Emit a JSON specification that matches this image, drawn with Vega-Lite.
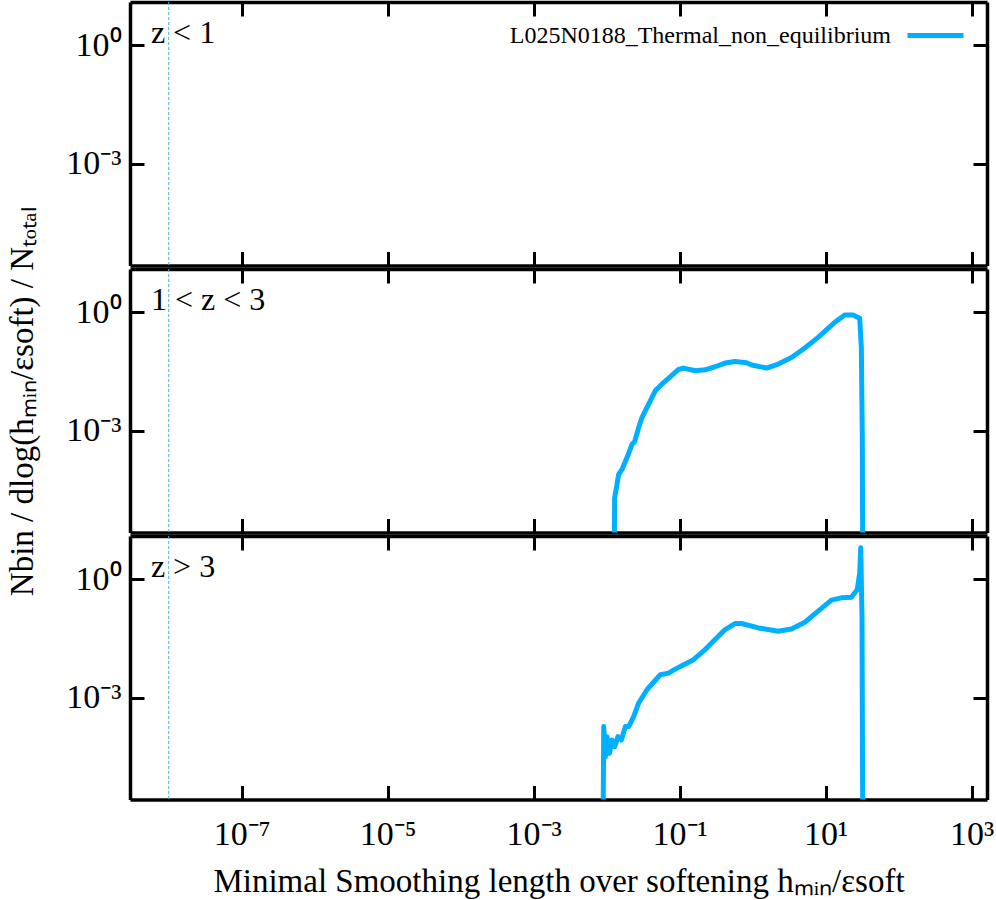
{
  "$schema": "https://vega.github.io/schema/vega-lite/v6.json",
  "background": "white",
  "padding": {"left": 6, "top": 0, "right": 8, "bottom": 5},
  "datasets": {
    "curves": [
      {"panel": "mid", "x": 0.01247, "y": 1e-8},
      {"panel": "mid", "x": 0.01285, "y": 1.995e-5},
      {"panel": "mid", "x": 0.01459, "y": 7.816e-5},
      {"panel": "mid", "x": 0.01618, "y": 1.047e-4},
      {"panel": "mid", "x": 0.01892, "y": 2.065e-4},
      {"panel": "mid", "x": 0.02218, "y": 4.519e-4},
      {"panel": "mid", "x": 0.02415, "y": 5.26e-4},
      {"panel": "mid", "x": 0.02735, "y": 1.191e-3},
      {"panel": "mid", "x": 0.03034, "y": 2.138e-3},
      {"panel": "mid", "x": 0.03556, "y": 3.837e-3},
      {"panel": "mid", "x": 0.04624, "y": 1.019e-2},
      {"panel": "mid", "x": 0.06012, "y": 1.652e-2},
      {"panel": "mid", "x": 0.07413, "y": 2.307e-2},
      {"panel": "mid", "x": 0.09638, "y": 3.532e-2},
      {"panel": "mid", "x": 0.1127, "y": 3.837e-2},
      {"panel": "mid", "x": 0.1629, "y": 3.273e-2},
      {"panel": "mid", "x": 0.2228, "y": 3.475e-2},
      {"panel": "mid", "x": 0.3055, "y": 4.14e-2},
      {"panel": "mid", "x": 0.4188, "y": 5.14e-2},
      {"panel": "mid", "x": 0.5728, "y": 5.636e-2},
      {"panel": "mid", "x": 0.826, "y": 5.224e-2},
      {"panel": "mid", "x": 0.966, "y": 4.571e-2},
      {"panel": "mid", "x": 1.549, "y": 3.837e-2},
      {"panel": "mid", "x": 2.239, "y": 4.842e-2},
      {"panel": "mid", "x": 3.396, "y": 7.129e-2},
      {"panel": "mid", "x": 5.176, "y": 0.1233},
      {"panel": "mid", "x": 7.87, "y": 0.2291},
      {"panel": "mid", "x": 13.3, "y": 0.5508},
      {"panel": "mid", "x": 18.24, "y": 0.8492},
      {"panel": "mid", "x": 23.66, "y": 0.8492},
      {"panel": "mid", "x": 29.24, "y": 0.6966},
      {"panel": "mid", "x": 30.76, "y": 0.1279},
      {"panel": "mid", "x": 31.7, "y": 6.637e-4},
      {"panel": "mid", "x": 32.43, "y": 1e-8},
      {"panel": "high", "x": 0.00881, "y": 1e-8},
      {"panel": "high", "x": 0.009099, "y": 1.858e-4},
      {"panel": "high", "x": 0.009594, "y": 3.221e-5},
      {"panel": "high", "x": 0.01009, "y": 1.035e-4},
      {"panel": "high", "x": 0.01089, "y": 3.899e-5},
      {"panel": "high", "x": 0.0118, "y": 8.531e-5},
      {"panel": "high", "x": 0.01285, "y": 5.768e-5},
      {"panel": "high", "x": 0.01426, "y": 1.035e-4},
      {"panel": "high", "x": 0.01589, "y": 8.531e-5},
      {"panel": "high", "x": 0.01799, "y": 1.858e-4},
      {"panel": "high", "x": 0.02, "y": 1.858e-4},
      {"panel": "high", "x": 0.02339, "y": 3.334e-4},
      {"panel": "high", "x": 0.02735, "y": 7.244e-4},
      {"panel": "high", "x": 0.03556, "y": 1.589e-3},
      {"panel": "high", "x": 0.0542, "y": 3.811e-3},
      {"panel": "high", "x": 0.07031, "y": 4.188e-3},
      {"panel": "high", "x": 0.0869, "y": 5.284e-3},
      {"panel": "high", "x": 0.1069, "y": 6.457e-3},
      {"panel": "high", "x": 0.1545, "y": 9.162e-3},
      {"panel": "high", "x": 0.2228, "y": 1.644e-2},
      {"panel": "high", "x": 0.3055, "y": 2.951e-2},
      {"panel": "high", "x": 0.4188, "y": 5.284e-2},
      {"panel": "high", "x": 0.5728, "y": 7.516e-2},
      {"panel": "high", "x": 0.7047, "y": 7.516e-2},
      {"panel": "high", "x": 1.194, "y": 5.808e-2},
      {"panel": "high", "x": 2.239, "y": 4.786e-2},
      {"panel": "high", "x": 3.396, "y": 5.483e-2},
      {"panel": "high", "x": 5.176, "y": 8.11e-2},
      {"panel": "high", "x": 7.87, "y": 0.1542},
      {"panel": "high", "x": 11.97, "y": 0.2931},
      {"panel": "high", "x": 16.41, "y": 0.335},
      {"panel": "high", "x": 22.44, "y": 0.3491},
      {"panel": "high", "x": 27.1, "y": 0.5483},
      {"panel": "high", "x": 29.24, "y": 1.445},
      {"panel": "high", "x": 30.2, "y": 6.223},
      {"panel": "high", "x": 31.41, "y": 0.1151},
      {"panel": "high", "x": 32.43, "y": 1e-8}
    ]
  },
  "vconcat": [
    {
      "width": 857,
      "height": 263.5,
      "layer": [
        {
          "data": {"name": "curves"},
          "transform": [{"filter": "datum.panel === 'low'"}],
          "mark": {"type": "line", "clip": true, "strokeWidth": 5, "strokeCap": "round", "strokeJoin": "round"},
          "encoding": {
            "x": {"field": "x", "type": "quantitative", "scale": {"type": "log", "domain": [2.95e-9, 1620]},
              "axis": {"orient": "bottom", "values": [1e-7, 1e-5, 0.001, 0.1, 10, 1000], "labels": false, "title": null}},
            "y": {"field": "y", "type": "quantitative", "scale": {"type": "log", "domain": [2.66e-6, 12.3]},
              "axis": {"orient": "left", "values": [0.001, 1], "title": null,
                "labelExpr": "datum.value < 0.01 ? '10⁻³' : '10⁰'"}},
            "color": {"datum": "L025N0188_Thermal_non_equilibrium", "type": "nominal",
              "scale": {"domain": ["L025N0188_Thermal_non_equilibrium"], "range": ["#00b0ff"]},
              "legend": {"orient": "none", "legendX": 775, "legendY": 3, "title": null, "padding": 0,
                "symbolType": "stroke", "symbolSize": 3136, "symbolStrokeWidth": 5,
                "labelAlign": "right", "labelOffset": -75, "labelFont": "Liberation Serif",
                "labelFontSize": 24, "labelColor": "black", "labelLimit": 700}}
          }
        },
        {
          "data": {"values": [{}]},
          "mark": {"type": "rule", "color": "#4fb0e6", "strokeWidth": 1, "strokeDash": [3, 2]},
          "encoding": {
            "x": {"datum": 1e-8, "type": "quantitative", "scale": {"type": "log", "domain": [2.95e-9, 1620]},
              "axis": {"orient": "top", "values": [1e-7, 1e-5, 0.001, 0.1, 10, 1000], "labels": false, "title": null}}
          }
        },
        {
          "data": {"values": [{}]},
          "mark": {"type": "text", "align": "left", "baseline": "alphabetic", "font": "Liberation Serif", "fontSize": 32},
          "encoding": {
            "x": {"datum": 5.7e-9, "type": "quantitative", "scale": {"type": "log", "domain": [2.95e-9, 1620]}, "axis": null},
            "y": {"datum": 1.1, "type": "quantitative", "scale": {"type": "log", "domain": [2.66e-6, 12.3]},
              "axis": {"orient": "right", "values": [0.001, 1], "labels": false, "title": null}},
            "text": {"value": "z < 1"}
          }
        }
      ],
      "resolve": {"axis": {"x": "independent", "y": "independent"}}
    },
    {
      "width": 857,
      "height": 263.5,
      "layer": [
        {
          "data": {"name": "curves"},
          "transform": [{"filter": "datum.panel === 'mid'"}],
          "mark": {"type": "line", "clip": true, "strokeWidth": 5, "strokeCap": "round", "strokeJoin": "round", "color": "#00b0ff"},
          "encoding": {
            "x": {"field": "x", "type": "quantitative", "scale": {"type": "log", "domain": [2.95e-9, 1620]},
              "axis": {"orient": "bottom", "values": [1e-7, 1e-5, 0.001, 0.1, 10, 1000], "labels": false, "title": null}},
            "y": {"field": "y", "type": "quantitative", "scale": {"type": "log", "domain": [2.66e-6, 12.3]},
              "axis": {"orient": "left", "values": [0.001, 1], "title": "Nbin / dlog(hₘᵢₙ/εsoft) / Nₜₒₜₐₗ", "titlePadding": 26,
                "labelExpr": "datum.value < 0.01 ? '10⁻³' : '10⁰'"}}
          }
        },
        {
          "data": {"values": [{}]},
          "mark": {"type": "rule", "color": "#4fb0e6", "strokeWidth": 1, "strokeDash": [3, 2]},
          "encoding": {
            "x": {"datum": 1e-8, "type": "quantitative", "scale": {"type": "log", "domain": [2.95e-9, 1620]},
              "axis": {"orient": "top", "values": [1e-7, 1e-5, 0.001, 0.1, 10, 1000], "labels": false, "title": null}}
          }
        },
        {
          "data": {"values": [{}]},
          "mark": {"type": "text", "align": "left", "baseline": "alphabetic", "font": "Liberation Serif", "fontSize": 32},
          "encoding": {
            "x": {"datum": 5.7e-9, "type": "quantitative", "scale": {"type": "log", "domain": [2.95e-9, 1620]}, "axis": null},
            "y": {"datum": 1.1, "type": "quantitative", "scale": {"type": "log", "domain": [2.66e-6, 12.3]},
              "axis": {"orient": "right", "values": [0.001, 1], "labels": false, "title": null}},
            "text": {"value": "1 < z < 3"}
          }
        }
      ],
      "resolve": {"axis": {"x": "independent", "y": "independent"}}
    },
    {
      "width": 857,
      "height": 263.5,
      "layer": [
        {
          "data": {"name": "curves"},
          "transform": [{"filter": "datum.panel === 'high'"}],
          "mark": {"type": "line", "clip": true, "strokeWidth": 5, "strokeCap": "round", "strokeJoin": "round", "color": "#00b0ff"},
          "encoding": {
            "x": {"field": "x", "type": "quantitative", "scale": {"type": "log", "domain": [2.95e-9, 1620]},
              "axis": {"orient": "bottom", "values": [1e-7, 1e-5, 0.001, 0.1, 10, 1000],
                "title": "Minimal Smoothing length over softening hₘᵢₙ/εsoft", "titlePadding": 14,
                "labelExpr": "datum.value < 1e-6 ? '10⁻⁷' : datum.value < 1e-4 ? '10⁻⁵' : datum.value < 0.01 ? '10⁻³' : datum.value < 1 ? '10⁻¹' : datum.value < 100 ? '10¹' : '10³'",
                "labelPadding": 32, "labelBaseline": "top"}},
            "y": {"field": "y", "type": "quantitative", "scale": {"type": "log", "domain": [2.66e-6, 12.3]},
              "axis": {"orient": "left", "values": [0.001, 1], "title": null,
                "labelExpr": "datum.value < 0.01 ? '10⁻³' : '10⁰'"}}
          }
        },
        {
          "data": {"values": [{}]},
          "mark": {"type": "rule", "color": "#4fb0e6", "strokeWidth": 1, "strokeDash": [3, 2]},
          "encoding": {
            "x": {"datum": 1e-8, "type": "quantitative", "scale": {"type": "log", "domain": [2.95e-9, 1620]},
              "axis": {"orient": "top", "values": [1e-7, 1e-5, 0.001, 0.1, 10, 1000], "labels": false, "title": null}}
          }
        },
        {
          "data": {"values": [{}]},
          "mark": {"type": "text", "align": "left", "baseline": "alphabetic", "font": "Liberation Serif", "fontSize": 32},
          "encoding": {
            "x": {"datum": 5.7e-9, "type": "quantitative", "scale": {"type": "log", "domain": [2.95e-9, 1620]}, "axis": null},
            "y": {"datum": 1.1, "type": "quantitative", "scale": {"type": "log", "domain": [2.66e-6, 12.3]},
              "axis": {"orient": "right", "values": [0.001, 1], "labels": false, "title": null}},
            "text": {"value": "z > 3"}
          }
        }
      ],
      "resolve": {"axis": {"x": "independent", "y": "independent"}}
    }
  ],
  "spacing": 3,
  "bounds": "flush",
  "config": {
    "view": {"stroke": null},
    "axis": {
      "grid": false,
      "domainColor": "black",
      "domainWidth": 3.5,
      "tickColor": "black",
      "tickWidth": 3,
      "tickSize": -14,
      "labelPadding": 23,
      "labelFlush": false,
      "labelFont": "Liberation Serif",
      "labelFontSize": 34,
      "labelColor": "black",
      "titleFont": "Liberation Serif",
      "titleFontSize": 33,
      "titleFontWeight": "normal",
      "titleColor": "black"
    }
  }
}
